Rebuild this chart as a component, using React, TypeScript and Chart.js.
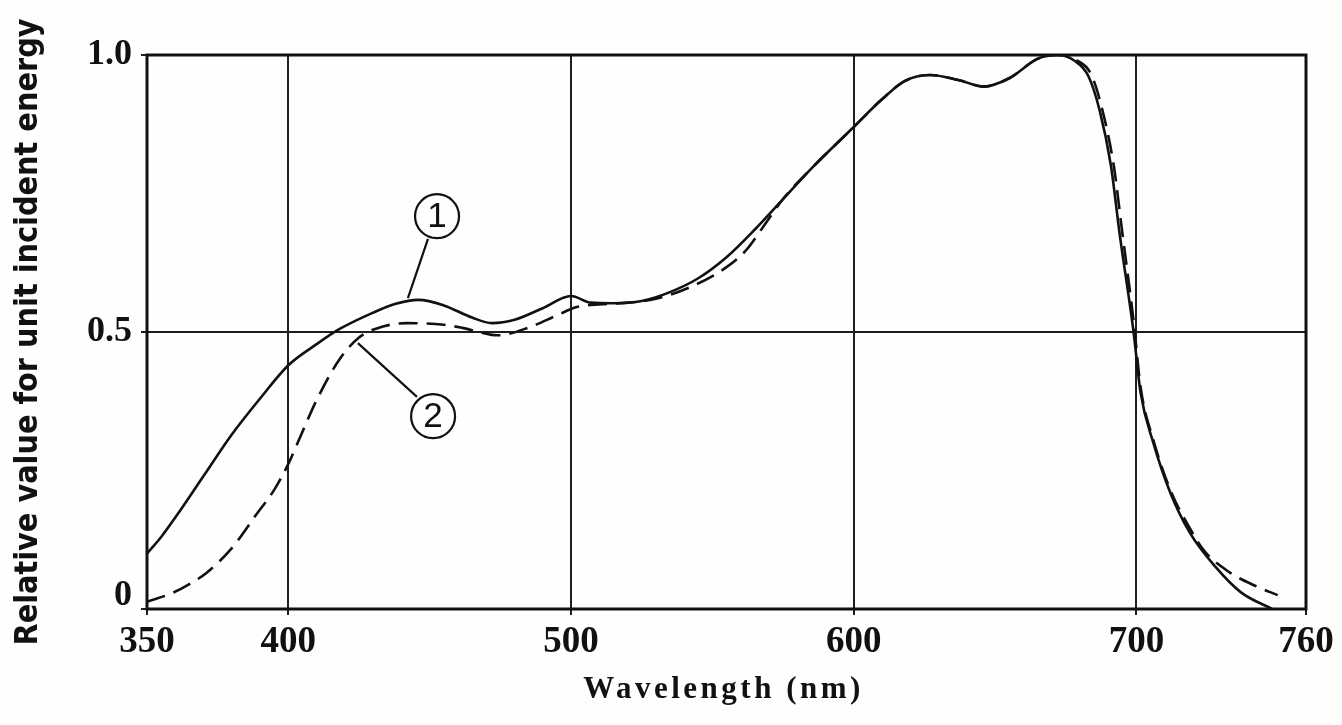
import React, { useEffect, useRef } from "react";
import { Chart, registerables } from "chart.js";

Chart.register(...registerables);

// ---- data ----
const xTickValues = [350, 400, 500, 600, 700, 760];
const yTickValues = [0, 0.5, 1.0];
const yTickLabels = ["0", "0.5", "1.0"];

const wavelength1 = [
  350, 355, 360, 370, 380, 390, 400, 410, 418, 430, 438, 446, 455, 465, 472, 480,
  490, 500, 507, 515, 525, 535, 545, 555, 565, 575, 585, 600, 610, 618, 627, 637,
  646, 655, 665, 672, 678, 683, 687, 691, 694, 699, 701.5, 706, 712, 719, 728, 737, 748,
];
const curve1 = [
  0.1, 0.13, 0.165, 0.24, 0.315, 0.38, 0.44, 0.478, 0.505, 0.535, 0.551, 0.558, 0.548, 0.526, 0.516, 0.522,
  0.543, 0.565, 0.553, 0.552, 0.556, 0.572, 0.597, 0.635, 0.685, 0.74, 0.795, 0.87, 0.92, 0.953, 0.964, 0.955,
  0.943, 0.958, 0.993, 1.0, 0.99, 0.962, 0.9, 0.8, 0.68, 0.5, 0.39, 0.3, 0.21, 0.137, 0.076, 0.03, 0.0,
];

const wavelength2 = [
  350, 359, 365, 371, 380, 389, 395, 400, 405, 410, 418, 425, 431, 442, 455, 462,
  474, 485, 495, 502, 511, 520, 530, 543, 555, 562, 568, 575, 585, 600, 610, 618,
  627, 637, 646, 655, 665, 672, 679, 684, 688, 692, 695, 699, 701.5, 706, 712, 719,
  724, 733, 742, 750,
];
const curve2 = [
  0.013, 0.029, 0.045, 0.065, 0.11, 0.173, 0.215, 0.262, 0.32, 0.377, 0.45, 0.49, 0.506, 0.516, 0.513, 0.507,
  0.494, 0.508, 0.53, 0.545, 0.55, 0.553, 0.56, 0.583, 0.617, 0.648, 0.69, 0.74, 0.795, 0.87, 0.92, 0.953,
  0.964, 0.955, 0.943, 0.958, 0.993, 1.0, 0.99, 0.965, 0.9, 0.8, 0.68, 0.52, 0.4, 0.305, 0.215, 0.145,
  0.105, 0.066, 0.042, 0.025,
];

// circled curve labels: label text, circle centre, leader line (data coordinates)
const markerLabels = ["1", "2"];
const markerCentres = [
  [452.6, 0.709],
  [451.2, 0.348],
];
const markerLeaders = [
  [[449.4, 0.668], [442.3, 0.561]],
  [[445.5, 0.383], [424.6, 0.48]],
];

const xTitle = "Wavelength (nm)";
const yTitle = "Relative value for unit incident energy";

const INK = "#111111";
const GRID = "#1e1e1e";

export default function App() {
  const canvasRef = useRef<HTMLCanvasElement | null>(null);

  useEffect(() => {
    const canvas = canvasRef.current;
    if (!canvas) return;

    const framePlugin = {
      id: "frameAndMarkers",
      afterDatasetsDraw(chart: any) {
        const { ctx, chartArea, scales } = chart;
        const xs = scales.x;
        const ys = scales.y;
        ctx.save();
        // frame
        ctx.strokeStyle = INK;
        ctx.lineWidth = 3;
        ctx.strokeRect(
          chartArea.left,
          chartArea.top,
          chartArea.right - chartArea.left,
          chartArea.bottom - chartArea.top
        );
        // circled labels
        ctx.lineWidth = 2.2;
        for (let i = 0; i < markerLabels.length; i++) {
          const cx = xs.getPixelForValue(markerCentres[i][0]);
          const cy = ys.getPixelForValue(markerCentres[i][1]);
          ctx.beginPath();
          ctx.arc(cx, cy, 22, 0, Math.PI * 2);
          ctx.fillStyle = "#fefefc";
          ctx.fill();
          ctx.stroke();
          ctx.fillStyle = INK;
          ctx.font = "35px 'Liberation Sans', Arial, sans-serif";
          ctx.textAlign = "center";
          ctx.textBaseline = "middle";
          ctx.fillText(markerLabels[i], cx, cy + 1);
          const [a, b] = markerLeaders[i];
          ctx.beginPath();
          ctx.moveTo(xs.getPixelForValue(a[0]), ys.getPixelForValue(a[1]));
          ctx.lineTo(xs.getPixelForValue(b[0]), ys.getPixelForValue(b[1]));
          ctx.stroke();
        }
        ctx.restore();
      },
      afterDraw(chart: any) {
        const { ctx, chartArea } = chart;
        ctx.save();
        ctx.fillStyle = INK;
        ctx.font = "bold 31px 'Liberation Serif', 'Times New Roman', serif";
        (ctx as any).letterSpacing = "3.5px";
        ctx.textAlign = "center";
        ctx.textBaseline = "middle";
        ctx.fillText(xTitle, (chartArea.left + chartArea.right) / 2 - 3, 690);
        ctx.restore();
      },
    };

    const chart = new Chart(canvas, {
      type: "line",
      data: {
        datasets: [
          {
            label: "2",
            data: wavelength2.map((x, i) => ({ x, y: curve2[i] })),
            borderColor: INK,
            borderWidth: 2.6,
            borderDash: [19, 9],
            pointRadius: 0,
            fill: false,
            cubicInterpolationMode: "monotone",
          },
          {
            label: "1",
            data: wavelength1.map((x, i) => ({ x, y: curve1[i] })),
            borderColor: INK,
            borderWidth: 2.6,
            pointRadius: 0,
            fill: false,
            cubicInterpolationMode: "monotone",
          },
        ],
      },
      options: {
        animation: false,
        responsive: true,
        maintainAspectRatio: false,
        layout: { padding: { top: 55, right: 36, left: 0, bottom: 0 } },
        plugins: {
          legend: { display: false },
          tooltip: { enabled: false },
        },
        scales: {
          x: {
            type: "linear",
            min: 350,
            max: 760,
            afterBuildTicks: (s: any) => {
              s.ticks = xTickValues.map((v) => ({ value: v }));
            },
            afterFit: (s: any) => {
              s.height = 116;
            },
            grid: { color: GRID, lineWidth: 2, tickLength: 6, drawTicks: true },
            border: { display: false },
            ticks: {
              color: INK,
              padding: 5,
              maxRotation: 0,
              autoSkip: false,
              font: { family: "'Liberation Serif', 'Times New Roman', serif", weight: "bold", size: 37 },
              callback: (v: any) => String(v),
            },
          },
          y: {
            type: "linear",
            min: 0,
            max: 1,
            afterBuildTicks: (s: any) => {
              s.ticks = yTickValues.map((v) => ({ value: v }));
            },
            afterFit: (s: any) => {
              s.width = 147;
            },
            grid: { color: GRID, lineWidth: 2, tickLength: 6, drawTicks: true },
            border: { display: false },
            ticks: {
              color: INK,
              padding: 9,
              autoSkip: false,
              font: { family: "'Liberation Serif', 'Times New Roman', serif", weight: "bold", size: 36, lineHeight: 0.75 },
              callback: (v: any) => {
                const idx = yTickValues.indexOf(Number(v));
                const text = idx >= 0 ? yTickLabels[idx] : String(v);
                return Number(v) === 0 ? [text, ""] : text;
              },
            },
            title: {
              display: true,
              text: yTitle,
              color: INK,
              padding: { top: 9, bottom: 0 },
              font: {
                family: "'Liberation Sans Narrow', 'DejaVu Sans Condensed', 'Arial Narrow', sans-serif",
                weight: "bold",
                size: 32,
                lineHeight: 1.2,
              },
            },
          },
        },
      },
      plugins: [framePlugin],
    } as any);

    return () => chart.destroy();
  }, []);

  return (
    <div
      style={{
        position: "fixed",
        left: 0,
        top: 0,
        width: "1342px",
        height: "725px",
        background: "#fefefc",
      }}
    >
      <canvas ref={canvasRef} />
    </div>
  );
}
